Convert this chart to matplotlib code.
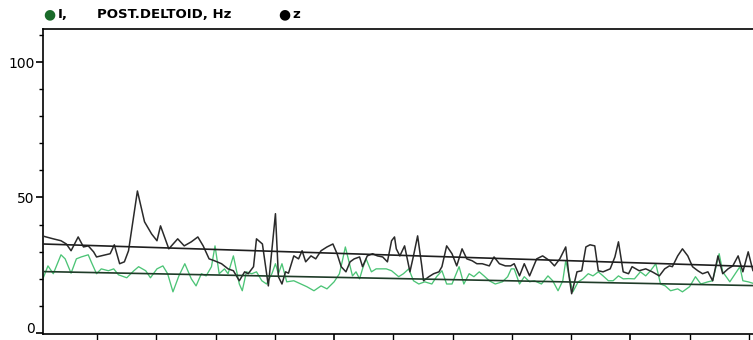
import numpy as np
import matplotlib.pyplot as plt
import matplotlib.transforms as mtransforms
from matplotlib.ticker import MultipleLocator, NullFormatter

# time (s) and frequency (Hz)
t_z = [0.06, 0.14, 0.26, 0.39, 0.48, 0.56, 0.68, 0.77, 0.85, 0.94, 0.99, 1.14, 1.22, 1.29,
       1.38, 1.46, 1.53, 1.58, 1.68, 1.80, 1.92, 2.01, 2.07, 2.21, 2.36, 2.47, 2.59, 2.70,
       2.79, 2.89, 2.98, 3.10, 3.21, 3.30, 3.40, 3.49, 3.55, 3.64, 3.69, 3.79, 3.89, 4.01,
       4.06, 4.12, 4.18, 4.23, 4.32, 4.40, 4.46, 4.52, 4.61, 4.69, 4.78, 4.88, 4.98, 5.05,
       5.12, 5.20, 5.27, 5.34, 5.43, 5.48, 5.56, 5.65, 5.73, 5.82, 5.90, 5.97, 6.02, 6.05,
       6.11, 6.19, 6.28, 6.34, 6.41, 6.48, 6.51, 6.60, 6.68, 6.77, 6.82, 6.90, 6.99, 7.07,
       7.16, 7.24, 7.33, 7.41, 7.50, 7.62, 7.70, 7.79, 7.89, 7.98, 8.04, 8.13, 8.21, 8.30,
       8.42, 8.52, 8.64, 8.72, 8.81, 8.91, 8.96, 9.01, 9.10, 9.18, 9.25, 9.32, 9.40, 9.46,
       9.54, 9.66, 9.74, 9.80, 9.88, 9.97, 10.03, 10.15, 10.26, 10.37, 10.49, 10.58, 10.66,
       10.71, 10.80, 10.88, 10.97, 11.05, 11.14, 11.22, 11.31, 11.39, 11.48, 11.56, 11.65,
       11.73, 11.82, 11.90, 11.99, 12.07, 12.13]
hz_z = [35.9, 35.4, 34.7, 34.0, 32.8, 30.3, 35.4, 31.7, 32.1, 29.9, 28.0, 28.8, 29.2, 32.5,
        25.5, 26.2, 30.3, 37.6, 52.4, 41.0, 36.5, 34.0, 39.5, 31.0, 34.7, 32.1, 33.6, 35.4,
        32.1, 27.3, 26.6, 25.5, 23.6, 22.9, 19.2, 22.5, 21.8, 24.4, 34.7, 32.8, 17.3, 44.0,
        20.7, 18.0, 22.5, 22.0, 28.4, 27.3, 30.3, 26.2, 28.4, 27.3, 30.3, 31.7, 32.8, 29.2,
        24.4, 22.5, 26.2, 27.3, 28.0, 24.4, 28.4, 29.2, 28.4, 28.0, 26.2, 34.0, 35.4, 31.0,
        28.4, 32.1, 22.5, 28.4, 35.8, 24.7, 19.2, 20.7, 21.8, 22.5, 24.4, 32.1, 29.2, 24.7,
        31.0, 27.3, 26.6, 25.5, 25.5, 24.7, 28.0, 25.5, 24.7, 24.7, 25.5, 21.0, 25.5, 21.0,
        27.3, 28.4, 26.6, 24.7, 27.3, 31.7, 21.8, 14.4, 22.5, 22.9, 31.7, 32.5, 32.1, 22.9,
        22.5, 23.6, 28.0, 33.6, 22.5, 21.8, 24.4, 22.9, 23.6, 22.5, 21.0, 23.6, 24.7,
        24.4, 28.4, 31.0, 28.4, 24.4, 22.9, 21.8, 22.5, 19.2, 28.4, 21.8, 23.6,
        24.7, 28.4, 22.5, 29.9, 22.9, 22.5]

t_i = [0.05, 0.17, 0.26, 0.39, 0.46, 0.56, 0.65, 0.73, 0.85, 0.90, 0.99, 1.07, 1.19, 1.28,
       1.36, 1.50, 1.62, 1.70, 1.82, 1.90, 2.01, 2.11, 2.19, 2.28, 2.38, 2.48, 2.59, 2.67,
       2.76, 2.84, 2.93, 2.99, 3.06, 3.15, 3.21, 3.30, 3.40, 3.45, 3.52, 3.61, 3.69, 3.78,
       3.86, 3.95, 4.01, 4.06, 4.12, 4.20, 4.32, 4.44, 4.54, 4.66, 4.78, 4.88, 5.00, 5.09,
       5.14, 5.19, 5.26, 5.31, 5.37, 5.43, 5.48, 5.54, 5.63, 5.71, 5.80, 5.88, 5.97, 6.09,
       6.17, 6.26, 6.34, 6.43, 6.53, 6.65, 6.73, 6.82, 6.90, 6.99, 7.11, 7.19, 7.28, 7.36,
       7.45, 7.53, 7.62, 7.72, 7.84, 7.93, 7.99, 8.04, 8.13, 8.21, 8.30, 8.38, 8.50, 8.61,
       8.69, 8.78, 8.86, 8.91, 8.96, 9.03, 9.12, 9.20, 9.29, 9.37, 9.46, 9.54, 9.63, 9.71,
       9.80, 9.88, 9.97, 10.07, 10.17, 10.26, 10.34, 10.43, 10.51, 10.59, 10.68, 10.80,
       10.88, 11.00, 11.10, 11.19, 11.31, 11.39, 11.50, 11.56, 11.68, 11.77, 11.85, 11.90,
       11.99, 12.11]
hz_i = [18.0, 24.7, 21.8, 28.8, 27.3, 22.0, 27.3, 28.0, 28.8, 26.2, 21.8, 23.6, 22.9, 23.6,
        21.4, 20.3, 22.9, 24.4, 22.9, 20.3, 23.6, 24.7, 21.8, 15.1, 21.0, 25.5, 19.9, 17.3,
        21.8, 21.0, 24.4, 32.1, 21.8, 23.6, 21.8, 28.4, 18.0, 15.5, 22.5, 21.8, 22.5, 19.2,
        18.0, 21.8, 25.5, 21.8, 25.5, 18.8, 19.2, 18.0, 17.0, 15.5, 17.3, 16.2, 18.8, 21.8,
        26.6, 31.7, 25.5, 21.0, 22.5, 19.9, 23.6, 27.3, 22.5, 23.6, 23.6, 23.6, 22.9, 20.7,
        21.8, 23.6, 19.2, 18.0, 18.8, 18.0, 20.7, 22.9, 18.0, 18.0, 24.4, 18.0, 21.8, 20.7,
        22.5, 21.0, 19.2, 18.0, 18.8, 20.7, 23.6, 23.6, 18.0, 20.7, 18.8, 19.2, 18.0, 21.0,
        19.2, 15.5, 19.2, 26.6, 21.8, 15.1, 18.8, 19.9, 21.8, 21.0, 22.5, 21.0, 19.2, 19.2,
        21.0, 19.9, 20.0, 19.9, 22.5, 21.0, 22.9, 25.5, 18.0, 17.3, 15.5, 16.2,
        15.1, 17.0, 20.7, 18.0, 18.8, 19.2, 29.2, 22.5, 18.8, 21.8, 24.4, 19.2,
        18.8, 18.0]

# regression lines as shown in the reference (start / end values)
trend_t_z = [0.08, 12.3]
trend_hz_z = [32.8, 24.3]
trend_t_i = [0.08, 12.1]
trend_hz_i = [22.6, 17.4]

fig = plt.figure(figsize=(7.53, 3.40), dpi=100)
ax = fig.add_axes([0.057, 0.0176, 0.95, 0.897])

ax.plot(t_z, hz_z, color='#2a2a2a', lw=1.1, zorder=3)
ax.plot(t_i, hz_i, color='#4cc476', lw=0.95, zorder=2)
ax.plot(trend_t_z, trend_hz_z, color='#1e1e1e', lw=1.2, zorder=4)
ax.plot(trend_t_i, trend_hz_i, color='#1f3b28', lw=1.2, zorder=4)

ax.set_xlim(0.085, 12.16)
ax.set_ylim(-0.5, 112.3)
ax.spines['right'].set_visible(False)
for s in ['left', 'top', 'bottom']:
    ax.spines[s].set_linewidth(1.2)

ax.xaxis.set_major_locator(MultipleLocator(5))
ax.xaxis.set_minor_locator(MultipleLocator(1))
ax.xaxis.set_major_formatter(NullFormatter())
ax.yaxis.set_major_locator(MultipleLocator(50))
ax.yaxis.set_minor_locator(MultipleLocator(10))
ax.tick_params(axis='x', which='major', length=6, width=1.2)
ax.tick_params(axis='x', which='minor', length=4, width=1.0)
ax.tick_params(axis='y', which='major', length=5, width=1.2, labelsize=10, pad=1)
ax.tick_params(axis='y', which='minor', length=3, width=1.0)

# lift the "0" label a little so it stays inside the figure
fig.canvas.draw()
for lab in ax.get_yticklabels():
    if lab.get_text() == '0':
        lab.set_transform(lab.get_transform() +
                          mtransforms.ScaledTranslation(0, 4 / 72, fig.dpi_scale_trans))

# legend row on top
fig.text(0.066, 0.958, '●', color='#1a6b2a', fontsize=10, ha='center', va='center')
fig.text(0.077, 0.958, 'I,', fontsize=9.5, ha='left', va='center', fontweight='semibold')
fig.text(0.129, 0.958, 'POST.DELTOID, Hz', fontsize=9.5, ha='left', va='center',
         fontweight='semibold')
fig.text(0.378, 0.958, '●', color='black', fontsize=10, ha='center', va='center')
fig.text(0.388, 0.958, 'z', fontsize=9.5, ha='left', va='center', fontweight='semibold')

fig.savefig('out.png', dpi=100)
